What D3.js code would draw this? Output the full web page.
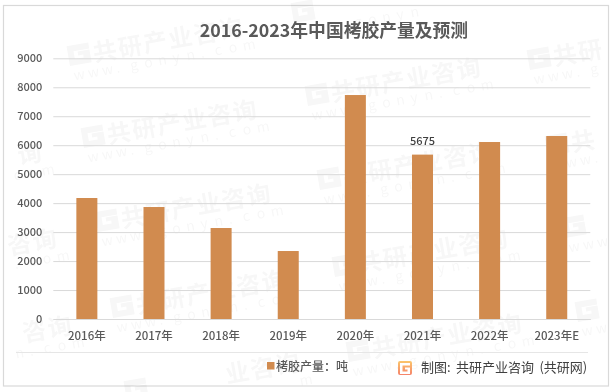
<!DOCTYPE html>
<html><head><meta charset="utf-8">
<script src="https://cdn.jsdelivr.net/npm/d3@7"></script>
<style>html,body{margin:0;padding:0;background:#fff}svg{display:block}text{font-family:"Noto Sans CJK SC","Noto Sans",sans-serif}</style>
</head><body><div id="c"></div>
<script>
const categories=["2016年","2017年","2018年","2019年","2020年","2021年","2022年","2023年E"];
const values=[4177,3866,3141,2347,7732,5675,6110,6317];
const labelled=["2021年"];
const yTicks=[0,1000,2000,3000,4000,5000,6000,7000,8000,9000];
const titleText="2016-2023年中国栲胶产量及预测";
const legendText="栲胶产量：吨";
const sourceText="制图: 共研产业咨询 (共研网)";
const wmName="共研产业咨询";
const wmUrl="www.gonyn.com";
const wmOrigins=[[-143,105],[-131,191],[-116,277],[-101,364],[70,66],[84,148],[98,232],[113,318],[127,401],[294,23],[308,106],[320,190],[335,277],[349,362],[530,70],[548,156],[565,238],[578,322]];

const W=613,H=392;
const svg=d3.select("#c").append("svg").attr("width",W).attr("height",H);
const grad=svg.append("defs").append("linearGradient").attr("id","lg").attr("x1",0).attr("y1",0).attr("x2",0).attr("y2",1);
grad.append("stop").attr("offset",0).attr("stop-color","#fbc66a");
grad.append("stop").attr("offset",1).attr("stop-color","#f5836b");

svg.append("rect").attr("x",3.5).attr("y",5.5).attr("width",605).attr("height",380.5).attr("fill","#fff").attr("stroke","#d9d9d9").attr("stroke-width",1.2);

const wm=svg.append("g").attr("fill","#000").attr("opacity",0.035);
const rad=-10*Math.PI/180;
const inside=(o,lx,ly,m)=>{
  const gx=o[0]+lx*Math.cos(rad)-ly*Math.sin(rad), gy=o[1]+lx*Math.sin(rad)+ly*Math.cos(rad);
  return gx>m&&gx<W-m&&gy>m&&gy<H-m;
};
wmOrigins.forEach(o=>{
  const g=wm.append("g").attr("transform",`translate(${o[0]},${o[1]}) rotate(-10)`);
  g.append("path").attr("d","M0,-20h22v6h-16v8h9v-3h-5v-4h12v13h-22z");
  Array.from(wmName).forEach((ch,i)=>{
    const lx=25+i*25.5;
    if(inside(o,lx+12,-10,18)) g.append("text").attr("x",lx).attr("font-size",24).attr("font-weight",700).text(ch);
  });
  Array.from(wmUrl).forEach((ch,i)=>{
    const lx=2+i*14.3;
    if(inside(o,lx+4,10,10)) g.append("text").attr("x",lx).attr("y",15).attr("font-size",14).text(ch);
  });
});

const x=d3.scaleBand().domain(categories).range([53.3,590.3]).paddingInner(0.687).paddingOuter(0.3435);
const y=d3.scaleLinear().domain([0,9000]).range([319,58.3]);

const gy=svg.append("g").attr("transform","translate(53.3,0)")
  .call(d3.axisLeft(y).tickValues(yTicks).tickSize(0).tickPadding(11).tickFormat(d3.format("d")));
gy.select(".domain").remove();
gy.selectAll("text").attr("font-size",11).attr("fill","#595959").attr("font-weight",500);
gy.selectAll("line").attr("x2",537).attr("stroke","#d9d9d9").attr("stroke-width",1);

svg.append("g").selectAll("rect").data(categories).join("rect")
  .attr("x",d=>x(d)).attr("width",x.bandwidth())
  .attr("y",(d,i)=>y(values[i])).attr("height",(d,i)=>y(0)-y(values[i]))
  .attr("fill","#d18b4f");

const gx=svg.append("g").attr("transform","translate(0,319)")
  .call(d3.axisBottom(x).tickSize(0).tickPadding(13));
gx.select(".domain").attr("stroke","#d9d9d9");
gx.selectAll("text").attr("font-size",11.5).attr("fill","#595959").attr("font-weight",500);

svg.append("g").selectAll("text").data(categories.filter(c=>labelled.includes(c))).join("text")
  .attr("x",d=>x(d)+x.bandwidth()/2).attr("y",d=>y(values[categories.indexOf(d)])-10)
  .attr("text-anchor","middle").attr("font-size",11).attr("fill","#404040").attr("font-weight",500)
  .text(d=>values[categories.indexOf(d)]);

svg.append("text").attr("x",334).attr("y",36.5).attr("text-anchor","middle")
  .attr("font-size",17.8).attr("font-weight",700).attr("fill","#595959").text(titleText);

svg.append("line").attr("x1",16).attr("x2",588).attr("y1",352.5).attr("y2",352.5).attr("stroke","#e6e6e6");
svg.append("rect").attr("x",267).attr("y",362).attr("width",7.5).attr("height",7.5).attr("fill","#d18b4f");
svg.append("text").attr("x",276).attr("y",371).attr("font-size",12).attr("font-weight",500).attr("fill","#595959").text(legendText);
svg.append("rect").attr("x",398).attr("y",361).attr("width",14).attr("height",14).attr("rx",2).attr("fill","url(#lg)");
svg.append("path").attr("d","M400,363h10v2.5h-7.5v6h5v-2h-2.5v-2h5v6.500h-10z").attr("fill","#fff");
svg.append("text").attr("x",421).attr("y",372).attr("font-size",13).attr("word-spacing",2.5).attr("fill","#404040").text(sourceText);
</script></body></html>
